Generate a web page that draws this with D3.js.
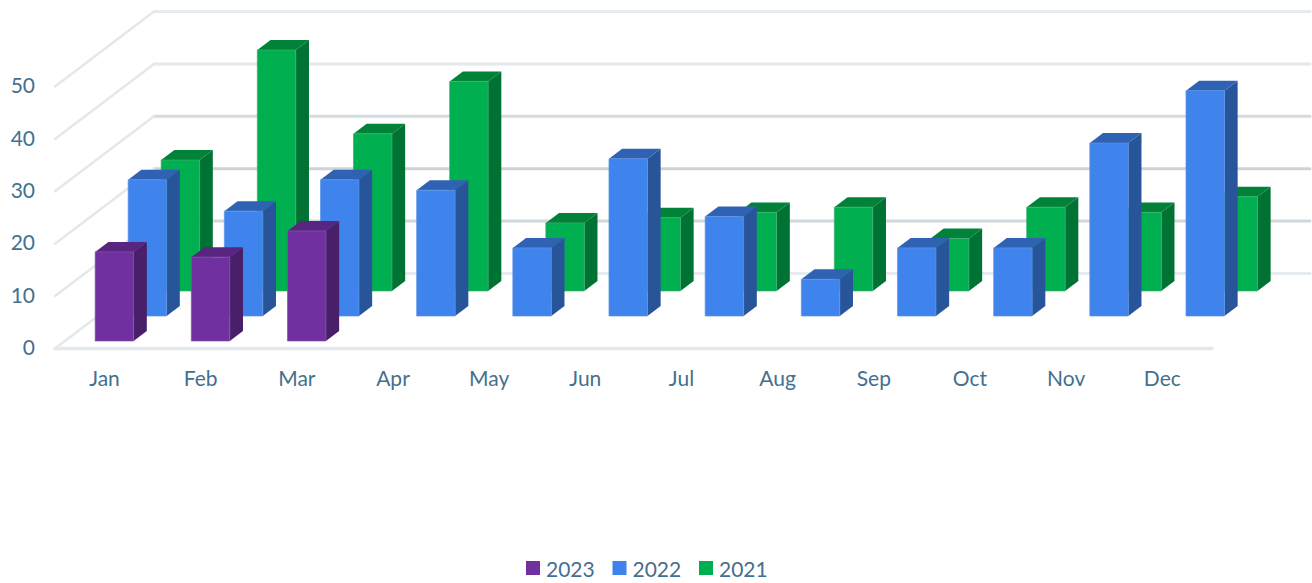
<!DOCTYPE html>
<html>
<head>
<meta charset="utf-8">
<script src="https://cdn.jsdelivr.net/npm/d3@7"></script>
<style>
  html, body { margin: 0; padding: 0; background: #fff; }
  svg { display: block; }
  text { font-family: Lato, "Open Sans", sans-serif; fill: #44708f; }
</style>
</head>
<body>
<svg id="chart"></svg>
<script>
const months = ["Jan", "Feb", "Mar", "Apr", "May", "Jun", "Jul", "Aug", "Sep", "Oct", "Nov", "Dec"];
const seriesNames = ["2023", "2022", "2021"];
const values2023 = [17, 16, 21, null, null, null, null, null, null, null, null, null];
const values2022 = [26, 20, 26, 24, 13, 30, 19, 7, 13, 13, 33, 43];
const values2021 = [25, 46, 30, 40, 13, 14, 15, 16, 10, 16, 15, 18];
const yTicks = [0, 10, 20, 30, 40, 50];

const seriesValues = { "2023": values2023, "2022": values2022, "2021": values2021 };
const colors = {
    "2023": { front: "#7030a0", side: "#481f68", top: "#582680", edge: "#8458a6" },
    "2022": { front: "#3f83ec", side: "#285499", top: "#2f62b3", edge: "#5c93ea" },
    "2021": { front: "#00b050", side: "#007233", top: "#008339", edge: "#3fae70" }
};
const gridColors = { 0: "#e6ebef", 10: "#d0d8dc", 20: "#ccd4d9", 30: "#d5dce0", 40: "#e4e9ed", 50: "#e6ebef" };

const width = 1312, height = 583;
const depthX = 99, depthY = 75;

const svg = d3.select("#chart").attr("width", width).attr("height", height);

const x = d3.scaleBand().domain(months).range([56.4, 1210.4]).paddingInner(0.6).paddingOuter(0.3);
const y = d3.scaleLinear().domain([0, 50]).range([348.5, 86.5]);
// depth into the chart, 0 is the front of the floor and 1 the back wall
const z = d3.scaleBand().domain(seriesNames).range([0, 1]).paddingInner(0.6).paddingOuter(0.3);

const px = (xPos, zPos) => xPos + zPos * depthX;
const py = (v, zPos) => y(v) - zPos * depthY;
const poly = pts => d3.line()(pts) + "Z";

// walls
const grid = svg.append("g").attr("fill", "none").attr("stroke-linecap", "round");
yTicks.forEach(t => {
    grid.append("path")
        .attr("d", d3.line()([[px(55, 1), py(t, 1)], [1310, py(t, 1)]]))
        .attr("stroke", gridColors[t])
        .attr("stroke-width", 3);
    grid.append("path")
        .attr("d", d3.line()([[px(55, 0), py(t, 0)], [px(55, 1), py(t, 1)]]))
        .attr("stroke", "#e2e8ec")
        .attr("stroke-width", 2.5);
});
grid.append("path")
    .attr("d", d3.line()([[55, y(0)], [1212, y(0)]]))
    .attr("stroke", "#e3e8ec")
    .attr("stroke-width", 3.5);

// bars, back row first
seriesNames.slice().reverse().forEach(name => {
    const c = colors[name];
    const z0 = z(name), z1 = z0 + z.bandwidth();
    const g = svg.append("g").attr("class", "series-" + name);
    const rows = months.map((m, i) => ({ month: m, value: seriesValues[name][i] })).filter(d => d.value != null);

    const bar = g.selectAll("g").data(rows).join("g");
    bar.append("path")
        .attr("fill", c.side)
        .attr("d", d => {
            const r = x(d.month) + x.bandwidth();
            return poly([[px(r, z0), py(0, z0)], [px(r, z1), py(0, z1)], [px(r, z1), py(d.value, z1)], [px(r, z0), py(d.value, z0)]]);
        });
    bar.append("path")
        .attr("fill", c.top)
        .attr("d", d => {
            const l = x(d.month), r = l + x.bandwidth();
            return poly([[px(l, z0), py(d.value, z0)], [px(r, z0), py(d.value, z0)], [px(r, z1), py(d.value, z1)], [px(l, z1), py(d.value, z1)]]);
        });
    bar.append("path")
        .attr("fill", c.front)
        .attr("stroke", c.edge)
        .attr("stroke-width", 0.7)
        .attr("d", d => {
            const l = x(d.month), r = l + x.bandwidth();
            return poly([[px(l, z0), py(0, z0)], [px(r, z0), py(0, z0)], [px(r, z0), py(d.value, z0)], [px(l, z0), py(d.value, z0)]]);
        });
});

// axes
const axisX = svg.append("g")
    .attr("transform", `translate(0,${y(0) + 23})`)
    .call(d3.axisBottom(x).tickSize(0).tickPadding(0));
axisX.select(".domain").remove();
axisX.selectAll("text").style("font-size", "21px").style("fill", "#44708f");

const axisY = svg.append("g")
    .attr("transform", "translate(35,-0.5)")
    .call(d3.axisLeft(y).tickValues(yTicks).tickSize(0).tickPadding(0));
axisY.select(".domain").remove();
axisY.selectAll("text").style("font-size", "21px").style("fill", "#44708f");

// legend
const legendX = d3.scalePoint().domain(seriesNames).range([526, 699]);
const legend = svg.append("g").selectAll("g").data(seriesNames).join("g")
    .attr("transform", d => `translate(${legendX(d)},561)`);
legend.append("rect").attr("width", 14).attr("height", 14).attr("fill", d => colors[d].front);
legend.append("text").attr("x", 20).attr("y", 8).attr("dy", "0.36em")
    .style("font-size", "21px").text(d => d);
</script>
</body>
</html>
